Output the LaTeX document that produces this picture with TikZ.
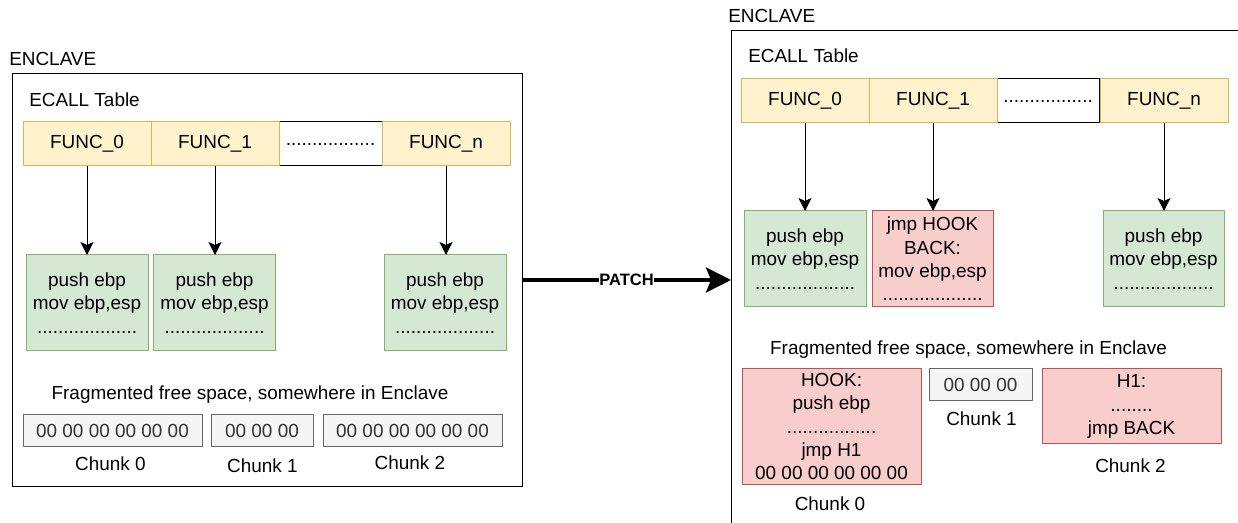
\documentclass[tikz,border=0pt]{standalone}
\usepackage{fontspec}
\setmainfont{Liberation Sans}
\usetikzlibrary{arrows.meta}
\definecolor{yelfill}{HTML}{FFF2CC}\definecolor{yeldraw}{HTML}{D6B656}
\definecolor{grnfill}{HTML}{D5E8D4}\definecolor{grndraw}{HTML}{82B366}
\definecolor{redfill}{HTML}{F8CECC}\definecolor{reddraw}{HTML}{B85450}
\definecolor{gryfill}{HTML}{F5F5F5}\definecolor{grydraw}{HTML}{666666}
\definecolor{grytext}{HTML}{333333}
\def\px{0.75pt}
\tikzset{
  box/.style={draw, inner sep=0pt, outer sep=0pt, line width=\px, align=center},
  enclave/.style={box, draw=black},
  func/.style={box, fill=yelfill, draw=yeldraw, minimum width=128*\px, minimum height=44*\px},
  dotcell/.style={box, draw=black, fill=white, minimum height=44*\px},
  code/.style={box, fill=grnfill, draw=grndraw, minimum width=122*\px, minimum height=96*\px},
  hook/.style={box, fill=redfill, draw=reddraw},
  free/.style={box, fill=gryfill, draw=grydraw, text=grytext, minimum height=32*\px},
  lbl/.style={inner sep=0pt},
  call/.style={-{Stealth[length=13*\px,width=13*\px,inset=3*\px]}, line width=\px},
}
\begin{document}
\begin{tikzpicture}[x=0.75pt, y=-0.75pt, font=\fontsize{14.2}{17.5}\selectfont, line join=round]
\useasboundingbox (0,0) rectangle (1238,523);
\clip (0,0) rectangle (1238,523);
% ---- before patching
\node[enclave, minimum width=510*\px, minimum height=412*\px] (lenc) at (267,280) {};
\node[lbl, anchor=west] (lenct) at (9,59) {ENCLAVE};
\node[lbl, anchor=west] (ltab) at (29,100) {ECALL Table};
\node[dotcell, minimum width=103*\px] (ldot) at (330.5,144) {.................};
\node[func] (lf0) at (87,144) {FUNC\_0};
\node[func] (lf1) at (215,144) {FUNC\_1};
\node[func] (lfn) at (446,144) {FUNC\_n};
\node[code] (lc0) at (87,303) {push ebp\\mov ebp,esp\\...................};
\node[code] (lc1) at (214.5,303) {push ebp\\mov ebp,esp\\...................};
\node[code] (lcn) at (445,303) {push ebp\\mov ebp,esp\\...................};
\draw[call] (lf0) -- (lf0 |- lc0.north);
\draw[call] (lf1) -- (lf1 |- lc1.north);
\draw[call] (lfn) -- (lfn |- lcn.north);
\node[lbl] (lfrag) at (250,394.5) {Fragmented free space, somewhere in Enclave};
\node[free, minimum width=179*\px] (lk0) at (112.5,430.5) {00 00 00 00 00 00};
\node[free, minimum width=102*\px] (lk1) at (262,430.5) {00 00 00};
\node[free, minimum width=179*\px] (lk2) at (412.5,430.5) {00 00 00 00 00 00};
\node[lbl] (lk0t) at (110.5,463.5) {Chunk 0};
\node[lbl] (lk1t) at (262.5,465.5) {Chunk 1};
\node[lbl] (lk2t) at (410,463) {Chunk 2};
% ---- after patching
\node[enclave, minimum width=529*\px, minimum height=498*\px] (renc) at (995.5,280) {};
\node[lbl, anchor=west] (renct) at (728,16) {ENCLAVE};
\node[lbl, anchor=west] (rtab) at (748,56) {ECALL Table};
\node[dotcell, minimum width=102*\px] (rdot) at (1048,101) {.................};
\node[func] (rf0) at (805,101) {FUNC\_0};
\node[func] (rf1) at (933,101) {FUNC\_1};
\node[func] (rfn) at (1164,101) {FUNC\_n};
\node[code] (rc0) at (805,259) {push ebp\\mov ebp,esp\\...................};
\node[hook, minimum width=121*\px, minimum height=96*\px] (rc1) at (932.5,259) {jmp HOOK\\BACK:\\mov ebp,esp\\...................};
\node[code, minimum width=121*\px] (rcn) at (1163.5,259) {push ebp\\mov ebp,esp\\...................};
\draw[call] (rf0) -- (rf0 |- rc0.north);
\draw[call] (rf1) -- (rf1 |- rc1.north);
\draw[call] (rfn) -- (rfn |- rcn.north);
\node[lbl] (rfrag) at (968.5,350) {Fragmented free space, somewhere in Enclave};
\node[hook, minimum width=179*\px, minimum height=115*\px] (rk0) at (831.5,426.5) {HOOK:\\push ebp\\.................\\jmp H1\\00 00 00 00 00 00};
\node[free, minimum width=103*\px] (rk1) at (980.5,385) {00 00 00};
\node[hook, minimum width=179*\px, minimum height=75*\px] (rk2) at (1131.5,406.5) {H1:\\........\\jmp BACK};
\node[lbl] (rk0t) at (830,504) {Chunk 0};
\node[lbl] (rk1t) at (981.5,419) {Chunk 1};
\node[lbl] (rk2t) at (1130.5,465.5) {Chunk 2};
% ---- patch
\draw[-{Stealth[length=25*\px,width=25*\px,inset=5*\px]}, line width=4*\px] (lenc.east) -- (renc.west)
  node[midway, fill=white, inner sep=0.5pt, font=\fontsize{12.4}{14}\selectfont\bfseries] (patch) {PATCH};
\end{tikzpicture}
\end{document}
